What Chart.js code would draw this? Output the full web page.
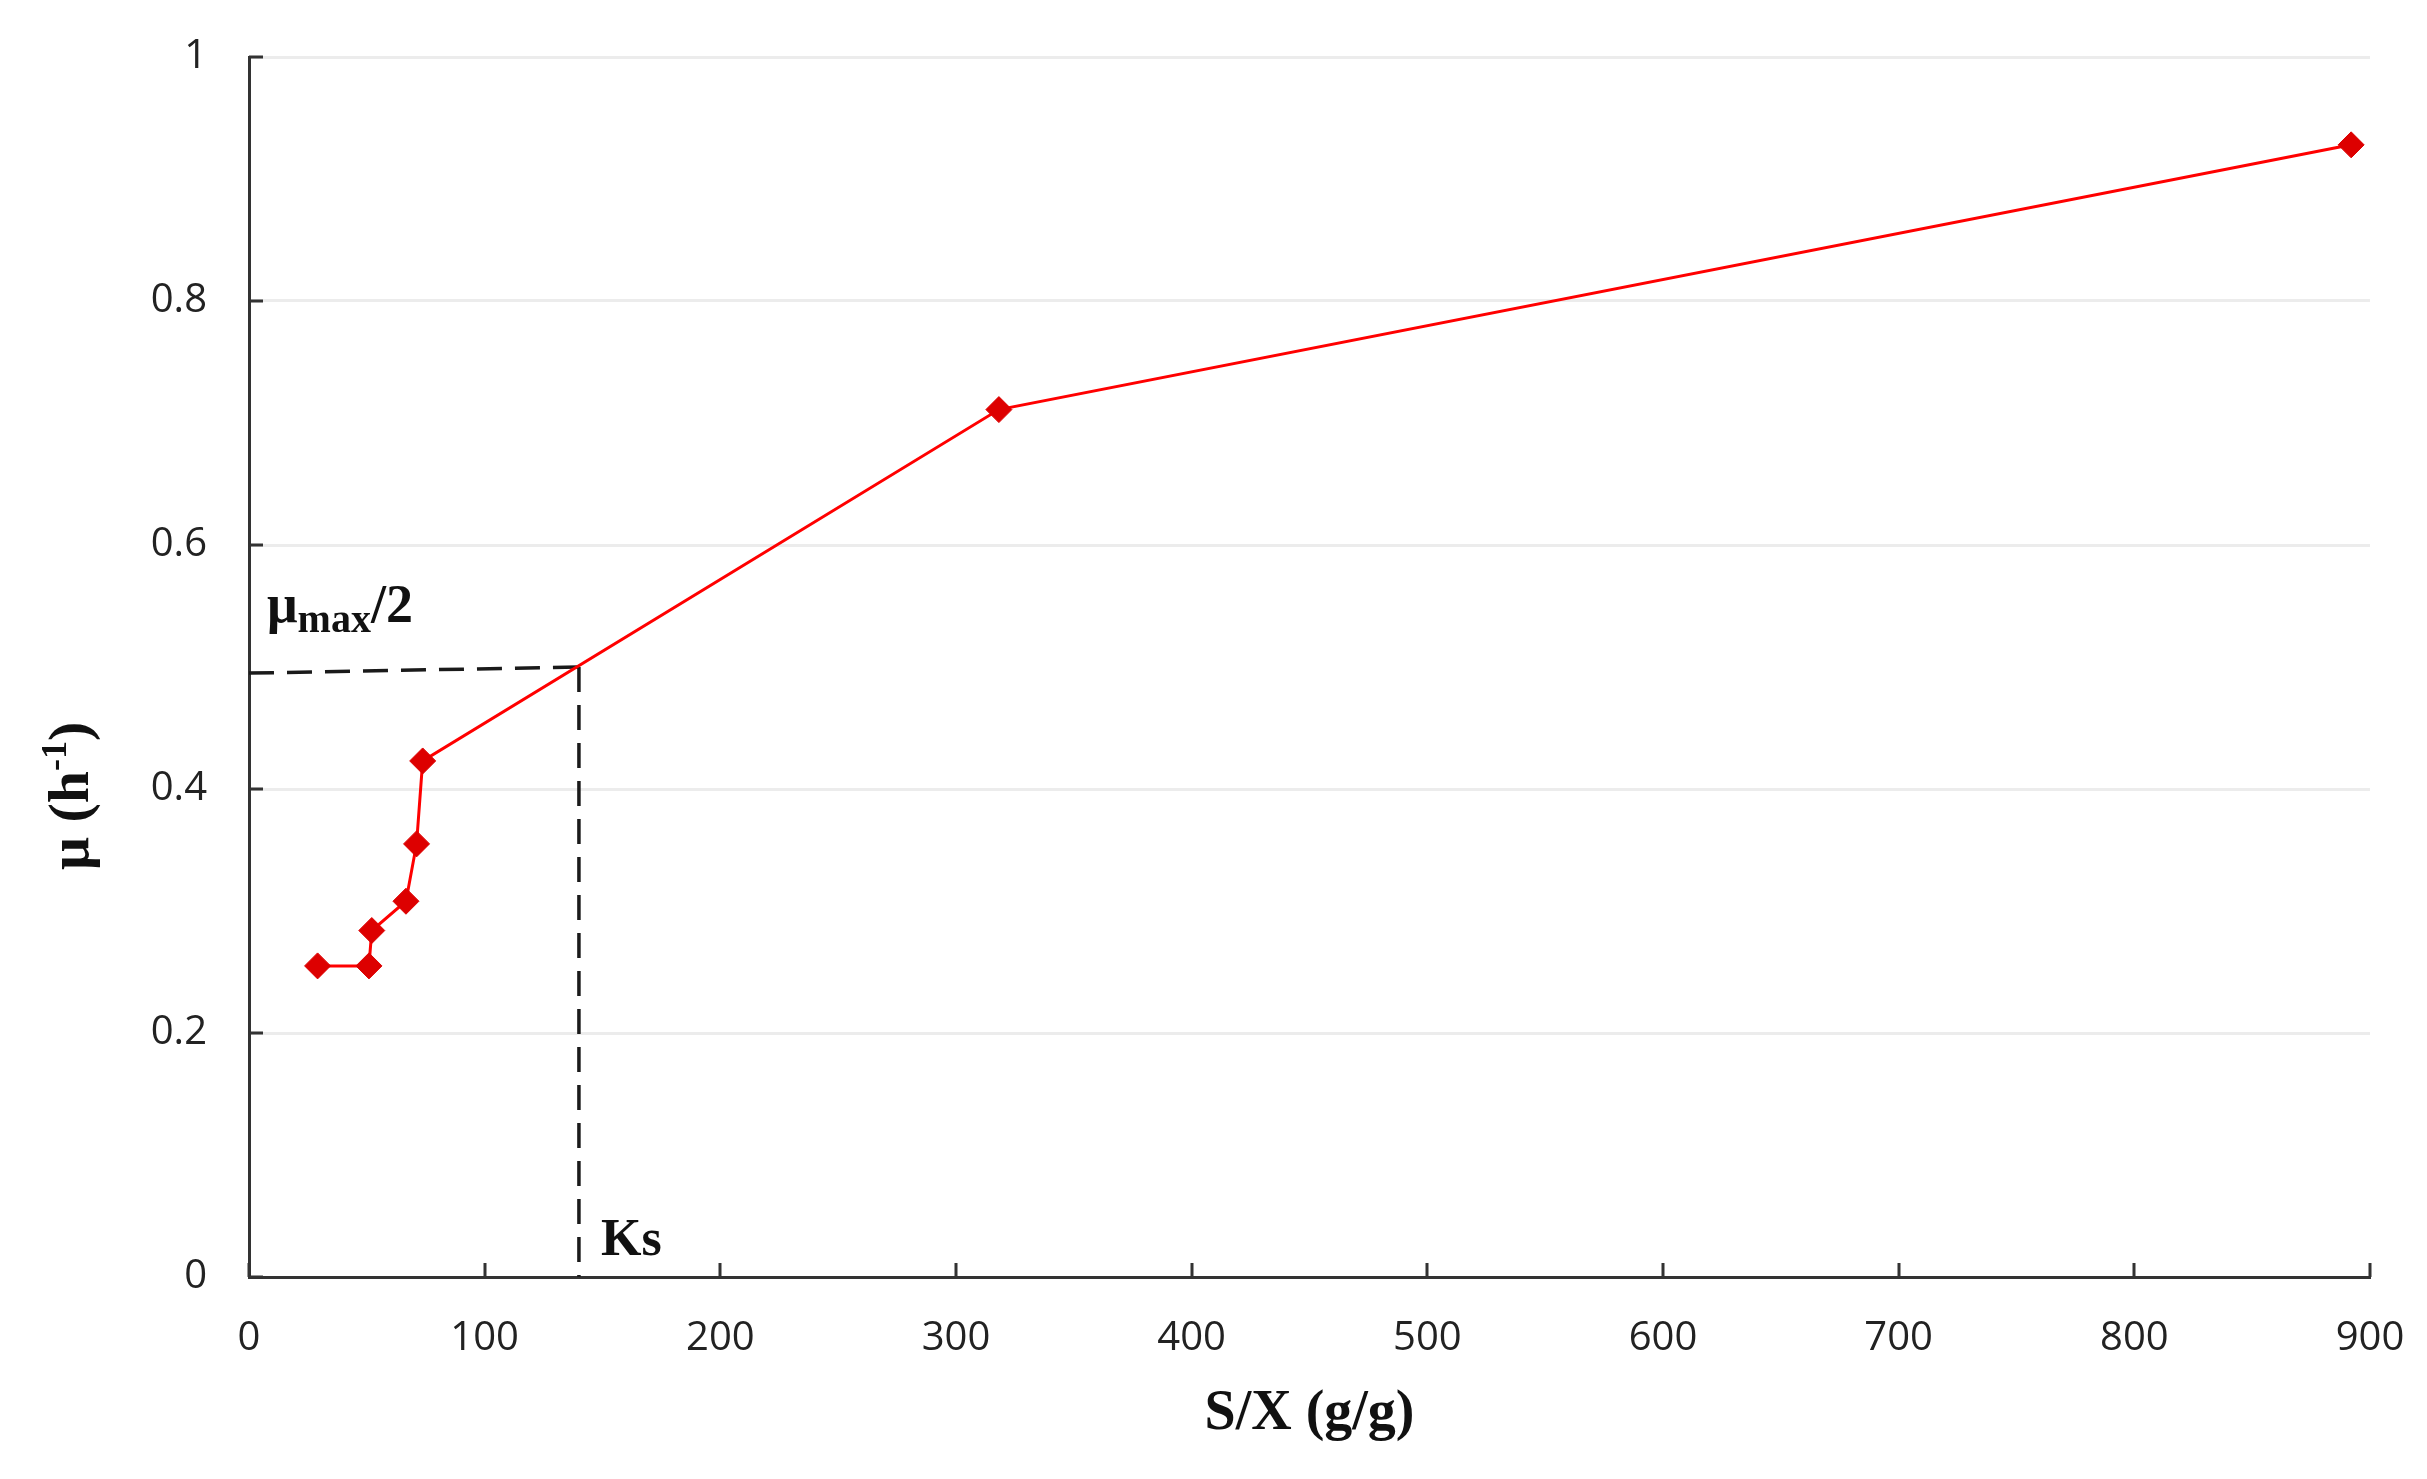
<!DOCTYPE html>
<html>
<head>
<meta charset="utf-8">
<script src="https://cdn.jsdelivr.net/npm/chart.js@4.4.1/dist/chart.umd.min.js"></script>
<style>
  body { margin: 0; background: #fff; }
  #wrap { width: 2427px; height: 1479px; }
</style>
</head>
<body>
<div id="wrap"><canvas id="muChart" width="2427" height="1479"></canvas></div>
<script>
// S/X ratio (g/g) and specific growth rate (1/h)
const sxValues = [29.1, 50.9, 52.1, 66.6, 71.1, 73.7, 318.2, 892];
const muValues = [0.255, 0.255, 0.284, 0.308, 0.355, 0.423, 0.711, 0.928];

// mu_max/2 guide and Ks guide
const halfMuX = [0, 140];
const halfMuY = [0.495, 0.5];
const ksX = [140, 140];
const ksY = [0.5, 0];

const xTicks = [0, 100, 200, 300, 400, 500, 600, 700, 800, 900];
const yTicks = [0, 0.2, 0.4, 0.6, 0.8, 1];

const toPoints = (xs, ys) => xs.map((x, i) => ({ x: x, y: ys[i] }));

const serif = '"Liberation Serif", "Times New Roman", serif';

// inward tick marks, titles and annotations
const extras = {
  id: 'extras',
  afterDraw(chart) {
    const { ctx, scales: { x, y } } = chart;
    ctx.save();
    ctx.strokeStyle = '#333';
    ctx.lineWidth = 3;
    ctx.beginPath();
    yTicks.forEach(v => {
      const py = Math.round(y.getPixelForValue(v));
      ctx.moveTo(x.left, py);
      ctx.lineTo(x.left + 14, py);
    });
    xTicks.forEach(v => {
      const px = Math.round(x.getPixelForValue(v));
      ctx.moveTo(px, y.bottom);
      ctx.lineTo(px, y.bottom - 14);
    });
    ctx.stroke();

    ctx.fillStyle = '#111';
    ctx.textBaseline = 'alphabetic';

    // y title, rotated
    ctx.save();
    ctx.translate(88, 870);
    ctx.rotate(-Math.PI / 2);
    ctx.textAlign = 'left';
    let cx = 0;
    ctx.font = 'bold 58px ' + serif;
    ctx.fillText('μ (h', cx, 0);
    cx += ctx.measureText('μ (h').width;
    ctx.font = 'bold 36px ' + serif;
    ctx.fillText('-1', cx, -22);
    cx += ctx.measureText('-1').width;
    ctx.font = 'bold 58px ' + serif;
    ctx.fillText(')', cx, 0);
    ctx.restore();

    // mu_max/2 label
    let lx = 267;
    ctx.textAlign = 'left';
    ctx.font = 'bold 54px ' + serif;
    ctx.fillText('μ', lx, 622);
    lx += ctx.measureText('μ').width;
    ctx.font = 'bold 40px ' + serif;
    ctx.fillText('max', lx, 632);
    lx += ctx.measureText('max').width;
    ctx.font = 'bold 54px ' + serif;
    ctx.fillText('/2', lx, 622);

    // Ks label
    ctx.font = 'bold 52px ' + serif;
    ctx.fillText('Ks', x.getPixelForValue(ksX[0]) + 22, 1255);
    ctx.restore();
  }
};

new Chart(document.getElementById('muChart'), {
  type: 'scatter',
  data: {
    datasets: [
      {
        label: 'mu',
        data: toPoints(sxValues, muValues),
        showLine: true,
        borderColor: '#ff0000',
        borderWidth: 3,
        pointStyle: 'rectRot',
        pointRadius: 13,
        pointBackgroundColor: '#dd0000',
        pointBorderColor: '#dd0000',
        pointBorderWidth: 1,
        order: 0
      },
      {
        label: 'half mu max',
        data: toPoints(halfMuX, halfMuY),
        showLine: true,
        borderColor: '#1a1a1a',
        borderWidth: 3.5,
        borderDash: [25, 13],
        pointRadius: 0,
        order: 1
      },
      {
        label: 'Ks',
        data: toPoints(ksX, ksY),
        showLine: true,
        borderColor: '#1a1a1a',
        borderWidth: 3.5,
        borderDash: [25, 13],
        pointRadius: 0,
        order: 1
      }
    ]
  },
  options: {
    responsive: false,
    animation: false,
    layout: { padding: { top: 57, right: 57, bottom: 0, left: 0 } },
    plugins: {
      legend: { display: false },
      tooltip: { enabled: false }
    },
    scales: {
      x: {
        type: 'linear',
        min: 0,
        max: 900,
        afterBuildTicks: s => { s.ticks = xTicks.map(v => ({ value: v })); },
        afterFit: s => {
          s.height = 202;
          s.paddingLeft = 0;
          s.paddingRight = 0;
        },
        grid: { display: false, drawTicks: false },
        border: { display: true, color: '#333', width: 3 },
        ticks: {
          padding: 38,
          color: '#222',
          font: { family: '"Open Sans", sans-serif', size: 40 }
        },
        title: {
          display: true,
          text: 'S/X (g/g)',
          color: '#111',
          font: { family: serif, size: 56, weight: 'bold' },
          padding: { top: 0, bottom: 31 }
        }
      },
      y: {
        type: 'linear',
        min: 0,
        max: 1,
        afterBuildTicks: s => { s.ticks = yTicks.map(v => ({ value: v })); },
        afterFit: s => {
          s.width = 249;
          s.paddingTop = 0;
          s.paddingBottom = 0;
        },
        grid: { color: '#ececec', lineWidth: 3, drawTicks: false },
        border: { display: true, color: '#333', width: 3 },
        ticks: {
          padding: 42,
          color: '#222',
          font: { family: '"Open Sans", sans-serif', size: 40 },
          callback: v => String(v)
        }
      }
    }
  },
  plugins: [extras]
});
</script>
</body>
</html>
